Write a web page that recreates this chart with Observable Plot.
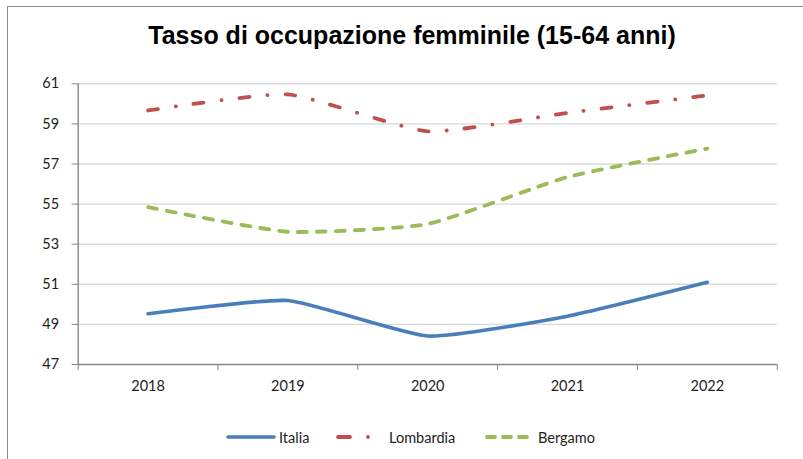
<!DOCTYPE html>
<html>
<head>
<meta charset="utf-8">
<script src="https://cdn.jsdelivr.net/npm/d3@7"></script>
<script src="https://cdn.jsdelivr.net/npm/@observablehq/plot@0.6"></script>
<style>
  html, body { margin: 0; padding: 0; background: #fff; }
  #wrap { position: relative; width: 803px; height: 459px; overflow: hidden; background: #fff; }
  #frame { position: absolute; left: 7px; top: 6px; width: 900px; height: 500px;
           border-left: 1.6px solid #8a8a8a; border-top: 1.6px solid #8a8a8a; }
  #title { position: absolute; left: 0; width: 824px; top: 21px; text-align: center;
           font-family: "Liberation Sans Narrow", "Liberation Sans", Arial, sans-serif;
           font-weight: bold; font-size: 25px; color: #000; }
  #chart { position: absolute; left: 0; top: 60px; }
  #legend { position: absolute; left: 0; top: 427px; width: 803px; height: 20px;
            font-family: Lato, "Open Sans", sans-serif; font-size: 14.5px; color: #222; }
  .item { position: absolute; top: 0; display: flex; align-items: center; height: 20px; }
</style>
</head>
<body>
<div id="wrap">
  <div id="frame"></div>
  <div id="title">Tasso di occupazione femminile (15-64 anni)</div>
  <div id="chart"></div>
  <div id="legend"></div>
</div>
<script>
const years = [2018, 2019, 2020, 2021, 2022];
const italia = [49.53, 50.19, 48.42, 49.41, 51.10];
const lombardia = [59.67, 60.47, 58.63, 59.55, 60.42];
const bergamo = [54.85, 53.62, 54.01, 56.35, 57.77];
const yTicks = [47, 49, 51, 53, 55, 57, 59, 61];
const seriesNames = ["Italia", "Lombardia", "Bergamo"];
const seriesColors = ["#4a7ebb", "#c0504d", "#9bbb59"];

const boundaries = d3.range(years.length + 1).map(i => years[0] - 0.5 + i);
const rows = (vals, name) => years.map((y, i) => ({year: y, value: vals[i], name}));

const styles = {
  Italia: {stroke: seriesColors[0], strokeWidth: 3.6, strokeDasharray: null, strokeLinecap: "round"},
  Lombardia: {stroke: seriesColors[1], strokeWidth: 3.8, strokeDasharray: "10 18 0.1 18", strokeLinecap: "round"},
  Bergamo: {stroke: seriesColors[2], strokeWidth: 3.8, strokeDasharray: "9 10", strokeLinecap: "round"}
};
const data = {Italia: italia, Lombardia: lombardia, Bergamo: bergamo};

const plot = Plot.plot({
  width: 803,
  height: 340,
  marginLeft: 77.7,
  marginRight: 26.3,
  marginTop: 23.3,
  marginBottom: 36,
  style: {fontFamily: "Lato, 'Open Sans', sans-serif", fontSize: "14.5px", color: "#222", background: "transparent"},
  x: {domain: [boundaries[0], boundaries[boundaries.length - 1]], axis: null, label: null},
  y: {domain: [47, 61], axis: null, label: null},
  marks: [
    Plot.gridY(yTicks.slice(1), {stroke: "#d9d9d9", strokeOpacity: 1, strokeWidth: 1.4}),
    Plot.ruleX([boundaries[0]], {stroke: "#868686", strokeWidth: 1.4}),
    Plot.ruleY([47], {stroke: "#868686", strokeWidth: 1.4}),
    Plot.axisY(yTicks, {tickSize: 6, tickPadding: 13, stroke: "#868686", label: null, tickFormat: d => String(d), fill: "#222"}),
    Plot.axisX(boundaries, {tickSize: 6, tickFormat: () => "", label: null, stroke: "#868686"}),
    Plot.axisX(years, {tickSize: 0, tickPadding: 16, label: null, tickFormat: d => String(d), fill: "#222"}),
    ...seriesNames.map(n => Plot.line(rows(data[n], n), {
      x: "year", y: "value", curve: "cardinal", tension: 0.5,
      ...styles[n]
    }))
  ]
});
document.getElementById("chart").appendChild(plot);

// legend
const legendItems = [
  {name: "Italia", left: 226, sw: 50},
  {name: "Lombardia", left: 334, sw: 50},
  {name: "Bergamo", left: 485, sw: 50}
];
const legend = document.getElementById("legend");
legendItems.forEach(it => {
  const st = styles[it.name];
  const div = document.createElement("div");
  div.className = "item";
  div.style.left = it.left + "px";
  const svg = d3.create("svg").attr("width", it.sw).attr("height", 20);
  if (it.name === "Lombardia") {
    svg.append("line").attr("x1", 4).attr("x2", 16).attr("y1", 10).attr("y2", 10)
      .attr("stroke", st.stroke).attr("stroke-width", st.strokeWidth).attr("stroke-linecap", "round");
    svg.append("circle").attr("cx", 34).attr("cy", 10).attr("r", 1.9).attr("fill", st.stroke);
  } else {
    svg.append("line").attr("x1", 2).attr("x2", it.sw - 2).attr("y1", 10).attr("y2", 10)
      .attr("stroke", st.stroke).attr("stroke-width", st.strokeWidth)
      .attr("stroke-linecap", "round")
      .attr("stroke-dasharray", it.name === "Bergamo" ? "8 8" : null);
  }
  div.appendChild(svg.node());
  const span = document.createElement("span");
  span.textContent = it.name;
  span.style.marginLeft = it.name === "Lombardia" ? "5px" : "3px";
  div.appendChild(span);
  legend.appendChild(div);
});
</script>
</body>
</html>
